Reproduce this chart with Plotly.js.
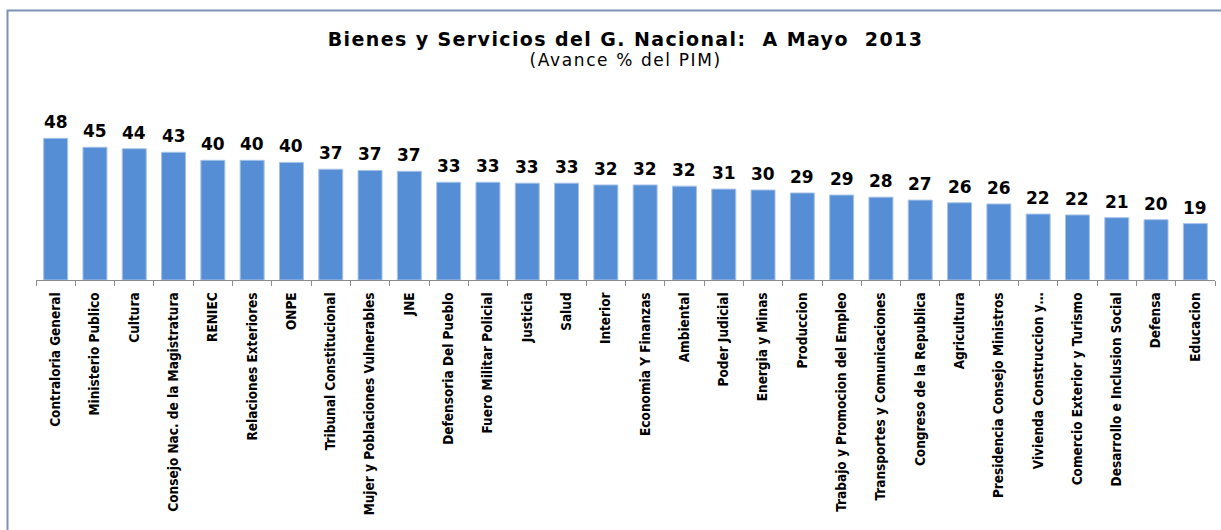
<!DOCTYPE html>
<html>
<head>
<meta charset="utf-8">
<script src="https://cdn.plot.ly/plotly-3.0.1.min.js"></script>
<style>html,body{margin:0;padding:0;background:#fff;}#chart{width:1221px;height:530px;}</style>
</head>
<body>
<div id="chart"></div>
<script>
var categories = ["Contraloria General","Ministerio Publico","Cultura","Consejo Nac. de la Magistratura","RENIEC","Relaciones Exteriores","ONPE","Tribunal Constitucional","Mujer y Poblaciones Vulnerables","JNE","Defensoria Del Pueblo","Fuero Militar Policial","Justicia","Salud","Interior","Economia Y Finanzas","Ambiental","Poder Judicial","Energia y Minas","Produccion","Trabajo y Promocion del Empleo","Transportes y Comunicaciones","Congreso de la Republica","Agricultura","Presidencia Consejo Ministros","Vivienda Construccion y\u2026","Comercio Exterior y Turismo","Desarrollo e Inclusion Social","Defensa","Educacion"];
var avance = [47.7,44.7,44.2,43.0,40.3,40.3,39.6,37.3,36.9,36.6,32.9,32.9,32.6,32.6,32.0,32.0,31.6,30.6,30.3,29.3,28.6,27.9,26.9,26.0,25.6,22.2,21.9,21.0,20.3,19.0];
var labels = ["48","45","44","43","40","40","40","37","37","37","33","33","33","33","32","32","32","31","30","29","29","28","27","26","26","22","22","21","20","19"];
var titleText = "Bienes y Servicios del G. Nacional:\u00a0 A Mayo\u00a0 2013";
var subtitleText = "(Avance % del PIM)";

var trace = {
  type: "bar",
  x: categories,
  y: avance,
  marker: {color: "#558ED5", line: {color: "#A8C3E8", width: 1}},
  hoverinfo: "x+y"
};

var annotations = categories.map(function(c, i){
  return {x: c, y: avance[i], xref: "x", yref: "y", text: labels[i], showarrow: false,
    yanchor: "bottom", yshift: 4,
    font: {family: "DejaVu Sans", size: 17, color: "#000", weight: "bold"}};
});
annotations.push({xref: "paper", yref: "paper", x: 0.5, y: (280-60)/200, yanchor: "middle",
  text: subtitleText, showarrow: false,
  font: {family: "DejaVu Sans", size: 17, color: "#000"}});

var layout = {
  width: 1221, height: 530,
  margin: {l: 36, r: 6, t: 80, b: 250, pad: 0},
  paper_bgcolor: "#fff", plot_bgcolor: "#fff",
  showlegend: false,
  bargap: 0.39,
  title: {text: titleText, x: 0.5, xref: "paper", y: 1 - 39/530, yref: "container", yanchor: "middle",
    font: {family: "DejaVu Sans", size: 19, color: "#000", weight: "bold"}},
  xaxis: {
    type: "category", automargin: false,
    showline: true, linecolor: "#8c8c8c", linewidth: 1,
    ticks: "outside", tickson: "boundaries", ticklen: 5, tickcolor: "#8c8c8c", tickwidth: 1,
    tickangle: -90, ticklabelstandoff: 6,
    tickfont: {family: "DejaVu Sans Condensed", size: 13.5, color: "#000", weight: "bold"},
    showgrid: false, zeroline: false
  },
  yaxis: {range: [0, 200/2.97], visible: false, showgrid: false, zeroline: false, fixedrange: true},
  annotations: annotations,
  shapes: [{type: "path", xref: "paper", yref: "paper",
    path: "M " + ((7.5-36)/1179) + " -2 L " + ((7.5-36)/1179) + " " + ((280-10.5)/200) + " L 1.2 " + ((280-10.5)/200),
    line: {color: "#7B93B4", width: 2}}]
};

Plotly.newPlot("chart", [trace], layout, {displayModeBar: false, staticPlot: true}).then(function(gd){
  var t = gd.querySelector(".gtitle");
  if (t) t.style.letterSpacing = "1.4px";
  gd.querySelectorAll(".annotation-text").forEach(function(el){
    if (el.textContent === subtitleText) el.style.letterSpacing = "1.6px";
  });
});
</script>
</body>
</html>
